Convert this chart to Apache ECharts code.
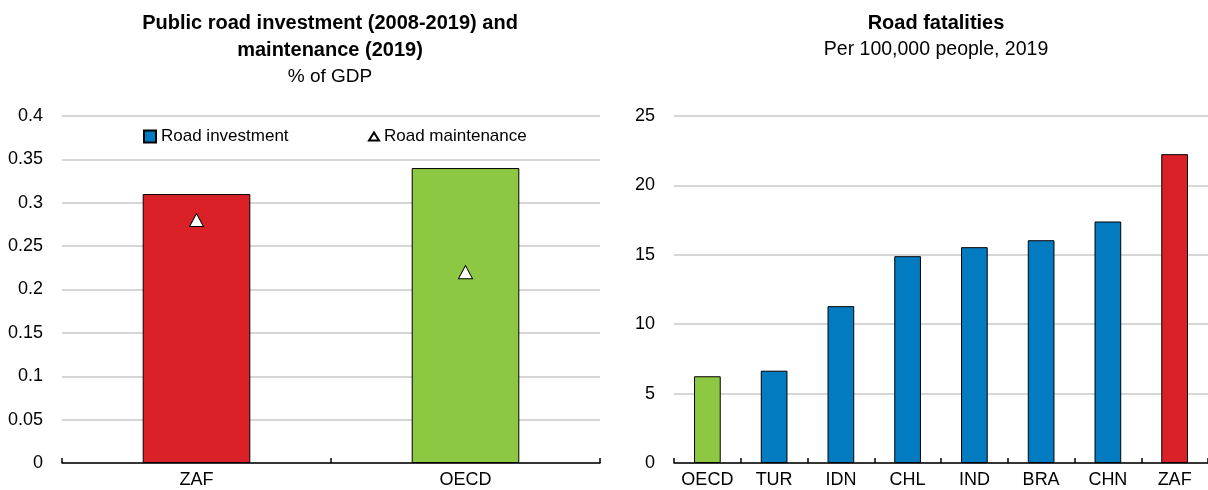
<!DOCTYPE html>
<html>
<head>
<meta charset="utf-8">
<script src="https://cdn.jsdelivr.net/npm/echarts@6/dist/echarts.min.js"></script>
<style>
  html, body { margin: 0; padding: 0; background: #fff; }
  #chart { width: 1208px; height: 490px; }
</style>
</head>
<body>
<div id="chart"></div>
<script>
// data
var investCats = ['ZAF', 'OECD'];
var roadInvestment = [0.31, 0.34];
var roadMaintenance = [0.28, 0.22];
var investTicks = [0, 0.05, 0.1, 0.15, 0.2, 0.25, 0.3, 0.35, 0.4];

var fatalCats = ['OECD', 'TUR', 'IDN', 'CHL', 'IND', 'BRA', 'CHN', 'ZAF'];
var fatalities = [6.25, 6.65, 11.3, 14.9, 15.55, 16.05, 17.4, 22.25];
var fatalTicks = [0, 5, 10, 15, 20, 25];

var RED = '#DA2128';
var GREEN = '#8CC841';
var BLUE = '#037BC1';
var FONT = "'Liberation Sans', Arial, sans-serif";

//颜色: ZAF red, OECD green, rest blue
function barColor(cat) {
    if (cat === 'ZAF') return RED;
    if (cat === 'OECD') return GREEN;
    return BLUE;
}

function xAxisOpt(idx, cats) {
    return {
        type: 'category',
        gridIndex: idx,
        data: cats,
        axisLine: { lineStyle: { color: '#000', width: 1.5 } },
        axisTick: { show: true, inside: true, length: 5, lineStyle: { color: '#000', width: 1.5 } },
        axisLabel: { color: '#000', fontSize: 18, fontFamily: FONT, margin: 8, interval: 0 }
    };
}

function yAxisOpt(idx, ticks) {
    return {
        type: 'value',
        gridIndex: idx,
        min: ticks[0],
        max: ticks[ticks.length - 1],
        interval: ticks[1] - ticks[0],
        axisLine: { show: false },
        axisTick: { show: false },
        splitLine: { lineStyle: { color: '#C8C8C8', width: 1.5 } },
        axisLabel: { color: '#000', fontSize: 18, fontFamily: FONT, margin: 19 }
    };
}

function generateChart() {
    var myChart = echarts.init(document.getElementById('chart'));
    var option = {
        animation: false,
        backgroundColor: '#fff',
        textStyle: { fontFamily: FONT },
        title: [{
            text: 'Public road investment (2008-2019) and\nmaintenance (2019)',
            subtext: '% of GDP',
            left: 330, top: 10, textAlign: 'center', itemGap: 0, padding: 0,
            textStyle: { fontSize: 20, fontWeight: 'bold', color: '#000', lineHeight: 27, fontFamily: FONT },
            subtextStyle: { fontSize: 19, color: '#000', lineHeight: 25, fontFamily: FONT }
        }, {
            text: 'Road fatalities',
            subtext: 'Per 100,000 people, 2019',
            left: 936, top: 10, textAlign: 'center', itemGap: 0, padding: 0,
            textStyle: { fontSize: 20, fontWeight: 'bold', color: '#000', lineHeight: 27, fontFamily: FONT },
            subtextStyle: { fontSize: 19.5, color: '#000', lineHeight: 25, fontFamily: FONT }
        }],
        legend: [{
            data: ['Road investment'],
            left: 143, top: 128, padding: 0,
            itemWidth: 12, itemHeight: 12, icon: 'rect',
            textStyle: { fontSize: 17, color: '#000', fontFamily: FONT }
        }, {
            data: ['Road maintenance'],
            left: 368, top: 128, padding: 0,
            itemWidth: 10, itemHeight: 8, icon: 'triangle', itemGap: 4,
            textStyle: { fontSize: 17, color: '#000', fontFamily: FONT }
        }],
        grid: [
            { left: 62, top: 116, width: 538, height: 347 },
            { left: 674, top: 116, width: 536, height: 347 }
        ],
        xAxis: [xAxisOpt(0, investCats), xAxisOpt(1, fatalCats)],
        yAxis: [yAxisOpt(0, investTicks), yAxisOpt(1, fatalTicks)],
        series: [{
            name: 'Road investment',
            type: 'bar',
            xAxisIndex: 0, yAxisIndex: 0,
            barWidth: '40%',
            itemStyle: { color: BLUE, borderColor: '#000', borderWidth: 1 },
            data: roadInvestment.map(function (v, i) {
                return { value: v, itemStyle: { color: barColor(investCats[i]) } };
            })
        }, {
            name: 'Road maintenance',
            type: 'scatter',
            xAxisIndex: 0, yAxisIndex: 0,
            symbol: 'triangle',
            symbolSize: [14, 13],
            itemStyle: { color: '#fff', borderColor: '#000', borderWidth: 1, opacity: 1 },
            data: roadMaintenance,
            z: 5
        }, {
            name: 'Road fatalities',
            type: 'bar',
            xAxisIndex: 1, yAxisIndex: 1,
            barWidth: '40%',
            itemStyle: { borderColor: '#000', borderWidth: 1 },
            data: fatalities.map(function (v, i) {
                return { value: v, itemStyle: { color: barColor(fatalCats[i]) } };
            })
        }]
    };
    myChart.setOption(option);
}

generateChart();
</script>
</body>
</html>
